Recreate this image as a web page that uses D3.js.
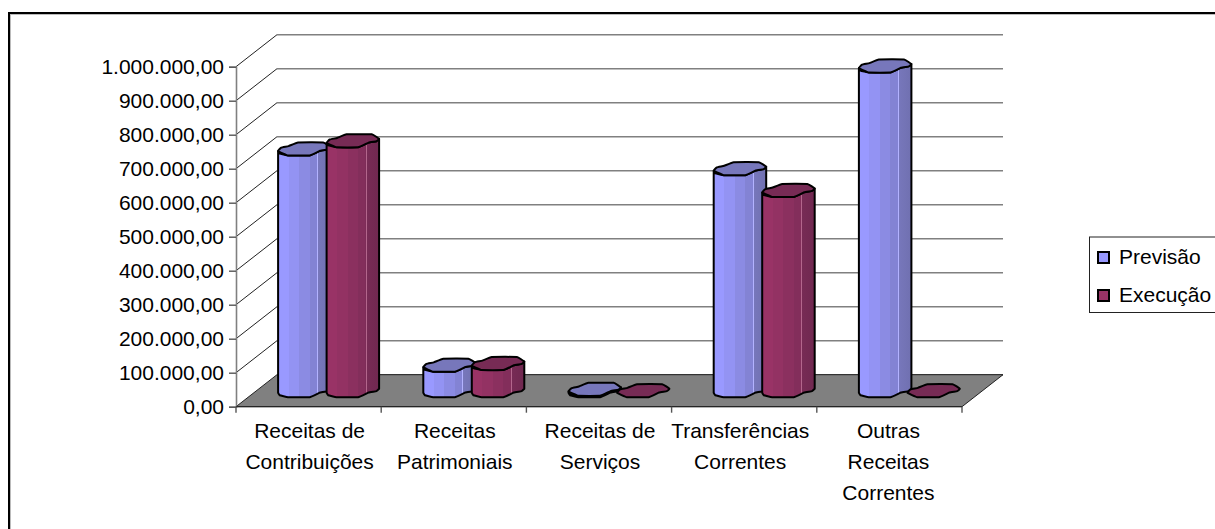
<!DOCTYPE html>
<html>
<head>
<meta charset="utf-8">
<script src="https://cdnjs.cloudflare.com/ajax/libs/d3/7.8.5/d3.min.js"></script>
<style>
html, body { margin: 0; padding: 0; background: #fff; overflow: hidden; }
text { font-family: "Liberation Sans", Arial, sans-serif; font-size: 21px; fill: #000; }
</style>
</head>
<body>
<script>
var categories = [
	['Receitas de', 'Contribuições'],
	['Receitas', 'Patrimoniais'],
	['Receitas de', 'Serviços'],
	['Transferências', 'Correntes'],
	['Outras', 'Receitas', 'Correntes']
];
var series_names = ['Previsão', 'Execução'];
var previsao = [711000, 75000, 4000, 653000, 955000];
var execucao = [735000, 80000, 0, 589000, 0];
var tick_values = [0, 100000, 200000, 300000, 400000, 500000, 600000, 700000, 800000, 900000, 1000000];

var fill_colors = ['#9999FF', '#993366'];
var dark_colors = ['#7777BB', '#772B55'];
var grey = '#808080';

var width = 1215, height = 529;
var depth_x = 41, depth_y = 32;
var label_shift = [1, 1, 1, -4, -1];

// outline of the cylinder top, 0..1 in both directions
var top_shape = [[0, .66], [.06, .4], [.2, .28], [.38, 0], [.86, 0], [1, .35], [.95, .53], [.8, .64], [.6, 1], [.19, 1]];
var front_shape = [[0, .66], [.03, .85], [.19, 1], [.6, 1], [.8, .64], [.95, .53], [1, .35]];
var cap_h = 13;

var svg = d3.select('body').append('svg').attr('width', width).attr('height', height);

// chart frame, only top and left fall inside the picture
svg.append('rect')
	.attr('x', 10.5).attr('y', 14.5)
	.attr('width', 1300).attr('height', 600)
	.attr('fill', '#fff').attr('stroke', '#bbb').attr('stroke-width', 1);
svg.append('rect')
	.attr('x', 9).attr('y', 13)
	.attr('width', 1300).attr('height', 600)
	.attr('fill', 'none').attr('stroke', '#000').attr('stroke-width', 2);

var x = d3.scaleBand().domain(d3.range(categories.length)).range([236, 962]);
var x_series = d3.scaleBand().domain([0, 1]).range([-51, 50]);
var y = d3.scaleLinear().domain([0, 1000000]).range([406.7, 66.7]);

// gradient bands across each cylinder
var defs = svg.append('defs');
fill_colors.forEach(function(c, s) {
	var grad = defs.append('linearGradient').attr('id', 'body_' + s);
	var stops = [[0, 1], [.2, .96], [.4, .91], [.6, .86], [.74, .82]];
	stops.forEach(function(st, i) {
		var col = d3.interpolateRgb(dark_colors[s], c)((st[1] - .78) / .22);
		var end = i < stops.length - 1 ? stops[i + 1][0] : .745;
		grad.append('stop').attr('offset', st[0]).attr('stop-color', col);
		grad.append('stop').attr('offset', end).attr('stop-color', col);
	});
	grad.append('stop').attr('offset', .745).attr('stop-color', d3.interpolateRgb(c, '#fff')(.25));
	grad.append('stop').attr('offset', .76).attr('stop-color', d3.interpolateRgb(c, '#fff')(.25));
	grad.append('stop').attr('offset', .76).attr('stop-color', dark_colors[s]);
	grad.append('stop').attr('offset', 1).attr('stop-color', d3.interpolateRgb(dark_colors[s], '#000')(.06));
});

// back wall lines
var grid = svg.append('g');
tick_values.forEach(function(v) {
	if (v > 0) {
		grid.append('line')
			.attr('x1', 236).attr('y1', y(v))
			.attr('x2', 236 + depth_x).attr('y2', y(v) - depth_y)
			.attr('stroke', '#222').attr('stroke-width', 1);
	}
	grid.append('line')
		.attr('x1', 236 + depth_x).attr('y1', y(v) - depth_y)
		.attr('x2', 962 + depth_x).attr('y2', y(v) - depth_y)
		.attr('stroke', grey).attr('stroke-width', 1.6);
});

// floor
svg.append('polygon')
	.attr('points', [[236, y(0)], [236 + depth_x, y(0) - depth_y], [962 + depth_x, y(0) - depth_y], [962, y(0)]].join(' '))
	.attr('fill', grey).attr('stroke', '#222').attr('stroke-width', 1);

// y axis
var axis_y = d3.axisLeft(y)
	.tickValues(tick_values)
	.tickSize(7)
	.tickPadding(5)
	.tickFormat(function(d) {
		return d3.format(',.2f')(d).replace(/,/g, '#').replace('.', ',').replace(/#/g, '.');
	});
var g_y = svg.append('g').attr('transform', 'translate(236,0)').call(axis_y);
g_y.select('.domain').attr('stroke', grey).attr('stroke-width', 1.6);
g_y.selectAll('line').attr('stroke', '#555').attr('stroke-width', 1.4);
g_y.selectAll('text').style('font-size', '21px');

// x axis
var g_x = svg.append('g');
g_x.append('line').attr('x1', 236).attr('x2', 962).attr('y1', y(0)).attr('y2', y(0)).attr('stroke', '#222');
d3.range(categories.length + 1).forEach(function(i) {
	var tx = 236 + i * x.step();
	g_x.append('line').attr('x1', tx).attr('x2', tx).attr('y1', y(0)).attr('y2', y(0) + 6).attr('stroke', '#555').attr('stroke-width', 1.4);
});
categories.forEach(function(lines, i) {
	var t = g_x.append('text').attr('text-anchor', 'middle');
	lines.forEach(function(l, j) {
		t.append('tspan')
			.attr('x', x(i) + x.bandwidth() / 2 + label_shift[i])
			.attr('y', 438 + j * 31)
			.text(l);
	});
});

var smooth = d3.line().curve(d3.curveCardinal.tension(0.75));
var smooth_closed = d3.line().curve(d3.curveCardinalClosed.tension(0.75));

function place(shape, x0, w, cy) {
	return shape.map(function(p) {
		return [x0 + p[0] * w, cy - cap_h / 2 + p[1] * cap_h];
	});
}

function body_path(x0, w, cy_top, cy_base) {
	var upper = smooth(place(front_shape, x0, w, cy_top));
	var lower = smooth(place(front_shape, x0, w, cy_base).reverse());
	return upper + 'L' + lower.slice(1) + 'Z';
}

function draw_bar(i, s, v) {
	var w = x_series.bandwidth() + 2;
	var x0 = x(i) + x.bandwidth() / 2 + depth_x / 2 + x_series(s) - (s == 1 ? 2 : 0);
	var base = y(0) - depth_y / 2;
	var cy = base - (y(0) - y(v));
	var g = svg.append('g')
		.attr('stroke', '#000').attr('stroke-width', 2).attr('stroke-linejoin', 'round');
	if (v > 0) {
		g.append('path').attr('d', body_path(x0, w, cy, base)).attr('fill', 'url(#body_' + s + ')');
	}
	g.append('path').attr('d', smooth_closed(place(top_shape, x0, w, cy))).attr('fill', dark_colors[s]);
}

categories.forEach(function(c, i) {
	draw_bar(i, 0, previsao[i]);
	draw_bar(i, 1, execucao[i]);
});

// legend
var legend = svg.append('g');
legend.append('rect')
	.attr('x', 1089.5).attr('y', 237)
	.attr('width', 140).attr('height', 75.5)
	.attr('fill', '#fff').attr('stroke', '#222');
series_names.forEach(function(name, i) {
	var ly = 257.5 + i * 38;
	legend.append('rect')
		.attr('x', 1098).attr('y', ly - 5.5)
		.attr('width', 11).attr('height', 11)
		.attr('fill', fill_colors[i]).attr('stroke', '#000').attr('stroke-width', 2);
	legend.append('text').attr('x', 1119).attr('y', ly + 6).text(name);
});
</script>
</body>
</html>
